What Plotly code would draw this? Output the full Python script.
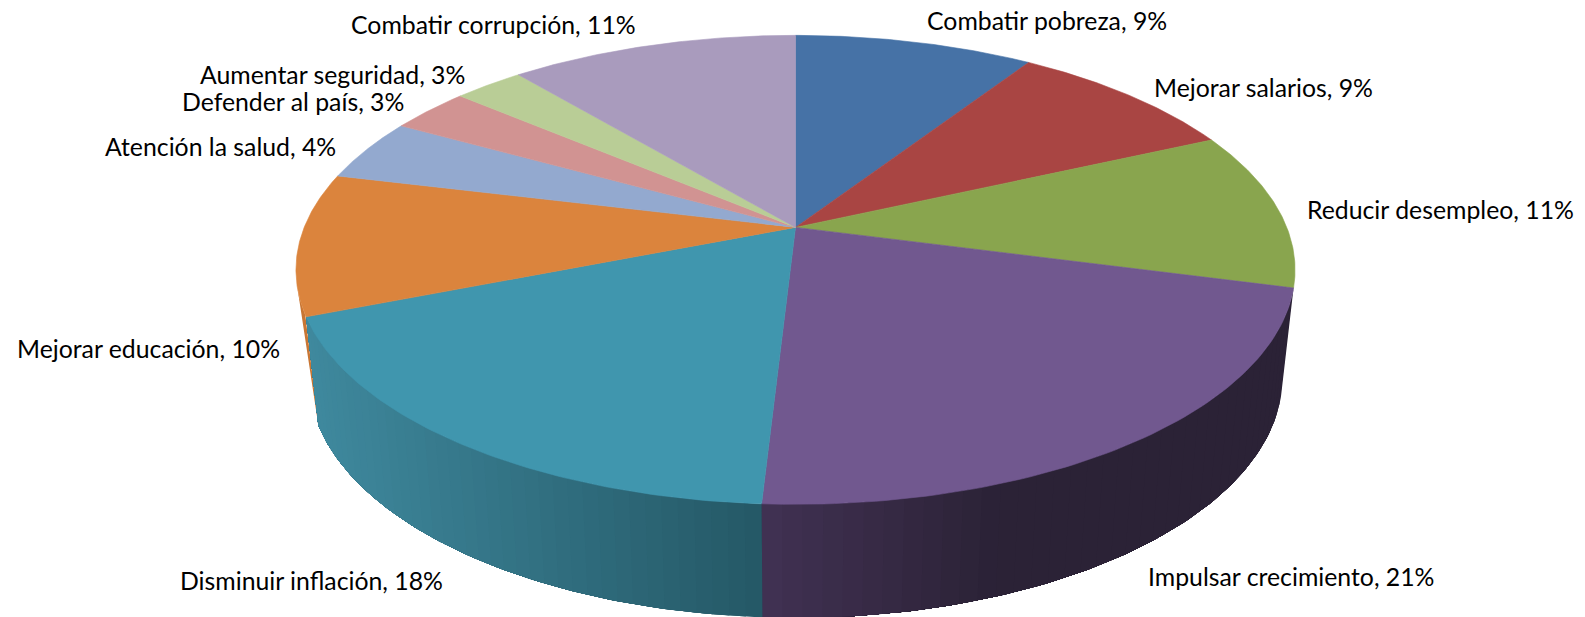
import numpy as np
import plotly.graph_objects as go

categories = ["Combatir pobreza", "Mejorar salarios", "Reducir desempleo", "Impulsar crecimiento",
              "Disminuir inflación", "Mejorar educación", "Atención la salud", "Defender al país",
              "Aumentar seguridad", "Combatir corrupción"]
shown_pct = [9, 9, 11, 21, 18, 10, 4, 3, 3, 11]
shares = [9.2, 9.0, 10.9, 21.8, 18.1, 9.8, 4.3, 3.1, 2.7, 11.1]
top_colors = ["#4672A6", "#A94543", "#89A54E", "#71588F", "#4096AE",
              "#DB843D", "#93A9CF", "#D19392", "#B9CD96", "#A99BBD"]
# wall shading: (colour at left of slice, colour at right)
wall_shades = {3: ((66, 50, 84), (43, 34, 54)),
               4: ((63, 137, 158), (37, 89, 103))}
orange_wall = "rgb(200,118,52)"
label_pos = [(1047, 20), (1263, 87), (1440.5, 209), (1291, 576), (311, 580),
             (148.6, 348), (220, 146.6), (293, 101), (332, 74), (493.3, 24)]

CX, CY, A, B, K = 795.5, 227.4, 491.3, 226.8, 0.181
SX, SY, H = 0.975, 1.027, 106.0
FONT = "Lato"
FONT_SIZE = 24.8


def project(theta):
    d = -np.cos(theta)
    x = np.sin(theta)
    den = 1 - K * d
    return A * x / den, B * d / den


def top_xy(theta):
    px, py = project(theta)
    return CX + px, CY + py


def bottom_xy(theta):
    px, py = project(theta)
    return CX + SX * px, CY + SY * py + H


def hexa(rgb):
    return "rgb(%d,%d,%d)" % tuple(int(round(v)) for v in rgb)


edges = 2 * np.pi * np.cumsum([0] + shares) / sum(shares)
fig = go.Figure()


def poly(xs, ys, color, lw=0.8):
    fig.add_trace(go.Scatter(x=list(xs), y=list(ys), mode="lines", fill="toself",
                             fillcolor=color, line=dict(color=color, width=lw),
                             hoverinfo="skip", showlegend=False))


# orange wall: only a sliver shows, from the corner tangent to the top rim
th = np.linspace(edges[5], edges[6], 81)
tx, ty = top_xy(th)
cx0, cy0 = bottom_xy(edges[5])
slope = (tx - cx0) / np.maximum(cy0 - ty, 1)
tan_idx = int(np.argmin(slope))
poly(np.r_[cx0, tx[:tan_idx + 1], cx0], np.r_[cy0, ty[:tan_idx + 1], cy0], orange_wall, 0)

# gradient walls, back to front; each step repaints everything still to come, so no seams show
for i in [3, 4]:
    a, b = edges[i], edges[i + 1]
    th = np.linspace(a, b, 81)
    (c_left, c_right) = wall_shades[i]
    tx, ty = top_xy(th)
    bx, by = bottom_xy(th)
    xmin, xmax = tx.min(), tx.max()
    for j in range(0, 80, 2):
        xm = tx[j]
        if i == 3:
            t = min(1.0, max(0.0, (xm - 765) / 240.0))
        else:
            t = (xm - xmin) / max(xmax - xmin, 1)
        col = [c_left[k] + (c_right[k] - c_left[k]) * t for k in range(3)]
        poly(np.r_[tx[j:], bx[j:][::-1], tx[j]], np.r_[ty[j:], by[j:][::-1], ty[j]], hexa(col), 0)

# top faces
for i in range(len(shares)):
    th = np.linspace(edges[i], edges[i + 1], 80)
    tx, ty = top_xy(th)
    poly(np.r_[CX, tx, CX], np.r_[CY, ty, CY], top_colors[i], 0.6)

annotations = [dict(x=p[0], y=p[1], xref="x", yref="y", showarrow=False,
                    text=f"{c}, {v}%", xanchor="center", yanchor="middle",
                    font=dict(family=FONT, size=FONT_SIZE, color="#000000"))
               for c, v, p in zip(categories, shown_pct, label_pos)]

fig.update_layout(
    width=1585, height=617, margin=dict(l=0, r=0, t=0, b=0),
    paper_bgcolor="white", plot_bgcolor="white", annotations=annotations,
    xaxis=dict(range=[0, 1585], visible=False, fixedrange=True),
    yaxis=dict(range=[617, 0], visible=False, fixedrange=True),
)
fig.write_html("out.html", config={"displayModeBar": False},
               post_script="document.body.style.margin='0';document.body.style.overflow='hidden';")
